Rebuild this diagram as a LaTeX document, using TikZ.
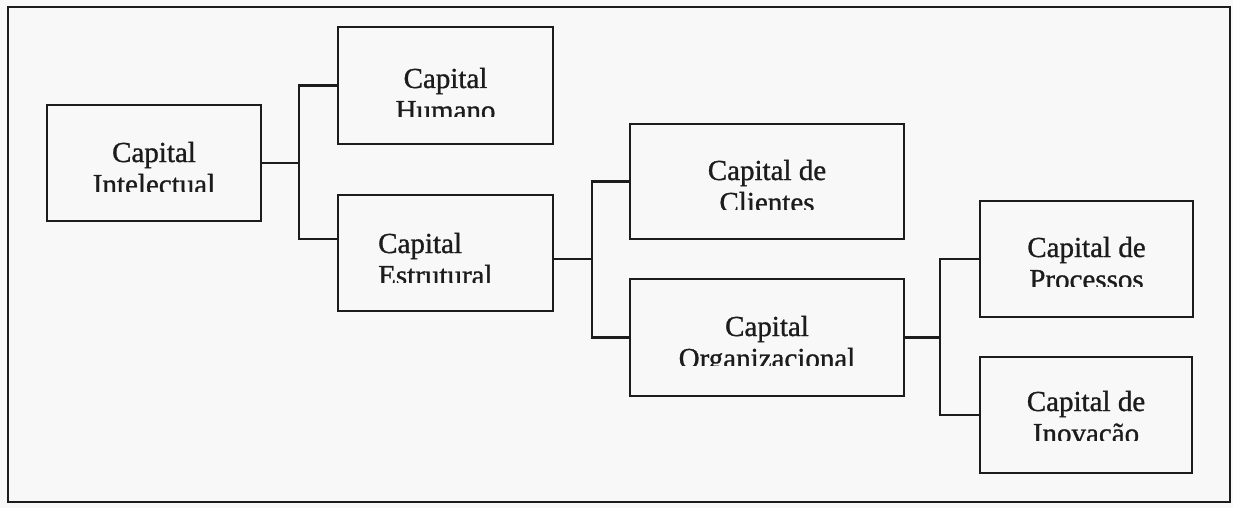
\documentclass[tikz,border=0pt]{standalone}
\usepackage{fontspec}
\setmainfont{Liberation Serif}
\newfontfamily\capfont{Liberation Serif}[FakeBold=1]
\definecolor{ink}{HTML}{1C1C1C}
\definecolor{paper}{HTML}{F8F8F8}

% Two-line box caption, clipped just above the second line's baseline.
% #1 box name, #2 anchor, #3 x, #4 first baseline y, #5 left fill, #6 line one, #7 line two
\newcommand\boxcaption[7]{%
  \begin{scope}
    \clip (#1.north west) rectangle (#1.east |- 0,#4+29);
    \node[lbl, anchor=#2] (t#1) at (#3,#4)
      {\vtop{\halign{#5##\hfil\cr #6\cr #7\cr}}};
  \end{scope}}

\begin{document}
\begin{tikzpicture}[x=1pt, y=-1pt,
  box/.style={draw=ink, line width=2.5pt, inner sep=0pt, outer sep=0pt, fill=paper},
  wire/.style={draw=ink, line width=2.5pt, line join=miter},
  lbl/.style={text=ink, inner sep=0pt, font=\capfont\fontsize{29}{32}\selectfont}]

  \useasboundingbox (0,0) rectangle (1233,508);
  \fill[paper] (0,0) rectangle (1233,508);
  \draw[ink, line width=2.3pt] (8,7) rectangle (1230,502);

  % boxes
  \node[box, minimum width=214pt, minimum height=116pt] (I) at (154,163) {};
  \node[box, minimum width=215pt, minimum height=117pt] (H) at (445.5,85.5) {};
  \node[box, minimum width=215pt, minimum height=116pt] (E) at (445.5,253) {};
  \node[box, minimum width=274pt, minimum height=115pt] (C) at (767,181.5) {};
  \node[box, minimum width=274pt, minimum height=117pt] (O) at (767,337.5) {};
  \node[box, minimum width=213pt, minimum height=116pt] (P) at (1086.5,259) {};
  \node[box, minimum width=212pt, minimum height=116pt] (N) at (1086,415) {};

  % branching connectors
  \coordinate (j1) at (299,163);
  \draw[wire] (I.east) -- (j1);
  \draw[wire] (H.west) -| (j1) |- ([yshift=14pt]E.west);

  \coordinate (j2) at (592,259);
  \draw[wire] ([yshift=-6pt]E.east) -- (j2);
  \draw[wire] (C.west) -| (j2) |- (O.west);

  \coordinate (j3) at (940,337.5);
  \draw[wire] (O.east) -- (j3);
  \draw[wire] (P.west) -| (j3) |- (N.west);

  % captions
  \boxcaption{I}{base}{154}{162}{\hfil}{Capital}{Intelectual}
  \boxcaption{H}{base}{445.5}{88}{\hfil}{Capital}{Humano}
  \boxcaption{E}{base west}{378}{253}{\relax}{Capital}{Estrutural}
  \boxcaption{C}{base}{767}{180}{\hfil}{Capital de}{Clientes}
  \boxcaption{O}{base}{767}{336}{\hfil}{Capital}{Organizacional}
  \boxcaption{P}{base}{1086.5}{257}{\hfil}{Capital de}{Processos}
  \boxcaption{N}{base}{1086}{411}{\hfil}{Capital de}{Inovação}
\end{tikzpicture}
\end{document}
